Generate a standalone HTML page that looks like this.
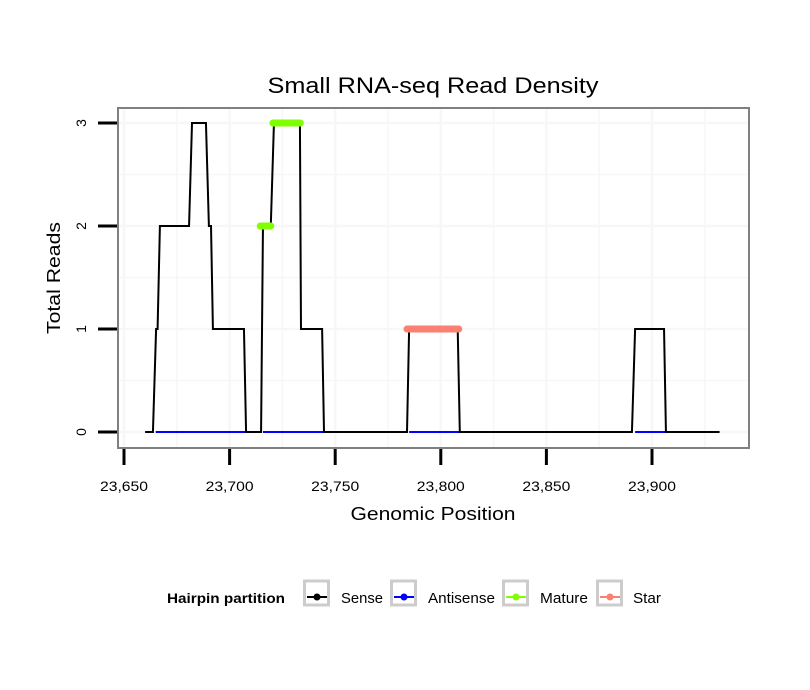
<!DOCTYPE html>
<html><head><meta charset="utf-8"><style>
body{margin:0;background:#fff}
svg{display:block;font-family:"Liberation Sans",sans-serif}
</style></head><body>
<svg width="810" height="690">
<g id="grid"></g>
<g id="series"></g>
<rect x="118" y="108" width="631" height="340" fill="none" stroke="#808080" stroke-width="2"/>
<g id="axes"></g>
<text x="433" y="93" text-anchor="middle" font-size="22" textLength="331" lengthAdjust="spacingAndGlyphs">Small RNA-seq Read Density</text>
<text x="433" y="520" text-anchor="middle" font-size="18" textLength="165" lengthAdjust="spacingAndGlyphs">Genomic Position</text>
<text transform="translate(60,278) rotate(-90)" text-anchor="middle" font-size="18" textLength="112" lengthAdjust="spacingAndGlyphs">Total Reads</text>
<g font-size="14">
<text x="167" y="603" font-weight="bold" textLength="118" lengthAdjust="spacingAndGlyphs">Hairpin partition</text>
<g id="legend"></g>
</g>
<script>
const xTicks=[23650,23700,23750,23800,23850,23900];
const xTickLabels=["23,650","23,700","23,750","23,800","23,850","23,900"];
const yTicks=[0,1,2,3];
const senseX=[23660,23663.7,23665.2,23665.9,23667,23680.8,23682.2,23688.8,23690.2,23691.2,23692.1,23706.8,23707.8,23714.9,23715.8,23719.5,23721,23733.3,23733.8,23743.8,23744.7,23784,23785,23808,23809,23890.5,23892,23905.7,23906.6,23932];
const senseY=[0,0,1,1,2,2,3,3,2,2,1,1,0,0,2,2,3,3,1,1,0,0,1,1,0,0,1,1,0,0];
const antisenseSegs=[[23665,23707.8],[23715.8,23744.7],[23785,23809],[23892,23906.6]];
const matureSegs=[[23714.5,23719.5,2],[23720.5,23733.5,3]];
const starSegs=[[23784,23808.5,1]];
const NS="http://www.w3.org/2000/svg";
const xs=v=>124+(v-23650)*(528/250);
const ys=v=>432-v*103;
function mk(t,a,p){const e=document.createElementNS(NS,t);for(const k in a)e.setAttribute(k,a[k]);p.appendChild(e);return e;}
const grid=document.getElementById('grid'),axes=document.getElementById('axes'),ser=document.getElementById('series');
for(let v=23650;v<=23925;v+=25){const l=mk('line',{x1:xs(v),x2:xs(v),y1:109,y2:447,stroke:'#f7f7f7','stroke-width':v%50?1.5:2.5},grid);

}
for(let v=0;v<=3;v+=0.5){const l=mk('line',{x1:119,x2:748,y1:ys(v),y2:ys(v),stroke:'#f7f7f7','stroke-width':v%1?1.5:2.5},grid);

}
xTicks.forEach((v,i)=>{const t=mk('line',{x1:xs(v),x2:xs(v),y1:449,y2:465,stroke:'#000','stroke-width':3},axes);


const tx=mk('text',{x:xs(v),y:491,'text-anchor':'middle','font-size':14,textLength:48,lengthAdjust:'spacingAndGlyphs'},axes);tx.textContent=xTickLabels[i];

});
yTicks.forEach(v=>{const t=mk('line',{x1:98,x2:117,y1:ys(v),y2:ys(v),stroke:'#000','stroke-width':3},axes);


const tx=mk('text',{transform:`translate(86,${ys(v)}) rotate(-90)`,'text-anchor':'middle','font-size':14},axes);tx.textContent=v;

});
antisenseSegs.forEach(s=>{const l=mk('line',{x1:xs(s[0]),x2:xs(s[1]),y1:ys(0),y2:ys(0),stroke:'#0000ff','stroke-width':2},ser);

});
const p=mk('polyline',{points:senseX.map((x,i)=>xs(x)+','+ys(senseY[i])).join(' '),fill:'none',stroke:'#000','stroke-width':2},ser);


antisenseSegs.forEach(s=>{const l=mk('line',{x1:xs(s[0])+2,x2:xs(s[1])-2,y1:ys(0),y2:ys(0),stroke:'#0000ff','stroke-width':2},ser);

});
matureSegs.forEach(s=>{const l=mk('line',{x1:xs(s[0]),x2:xs(s[1]),y1:ys(s[2]),y2:ys(s[2]),stroke:'#7fff00','stroke-width':7,'stroke-linecap':'round'},ser);

});
starSegs.forEach(s=>{const l=mk('line',{x1:xs(s[0]),x2:xs(s[1]),y1:ys(s[2]),y2:ys(s[2]),stroke:'#fa8072','stroke-width':7,'stroke-linecap':'round'},ser);

});
const lg=document.getElementById('legend');
const legNames=["Sense","Antisense","Mature","Star"];
const legCols=["#000","#0000ff","#7fff00","#fa8072"];
const boxX=[303,390,502,596];
const legTx=[341,428,540,633];
const legW=[42,67,48,28];
legNames.forEach((n,i)=>{const g=mk('g',{},lg);


mk('rect',{x:boxX[i]+1.5,y:581,width:24,height:24,fill:'#fff',stroke:'#cccccc','stroke-width':3},g);
mk('line',{x1:boxX[i]+4,x2:boxX[i]+24,y1:597,y2:597,stroke:legCols[i],'stroke-width':2},g);
mk('circle',{cx:boxX[i]+14,cy:597,r:3.5,fill:legCols[i]},g);
const t=mk('text',{x:legTx[i],y:603,'font-size':15,textLength:legW[i],lengthAdjust:'spacingAndGlyphs'},g);t.textContent=n;});
</script>
</svg>
</body></html>
